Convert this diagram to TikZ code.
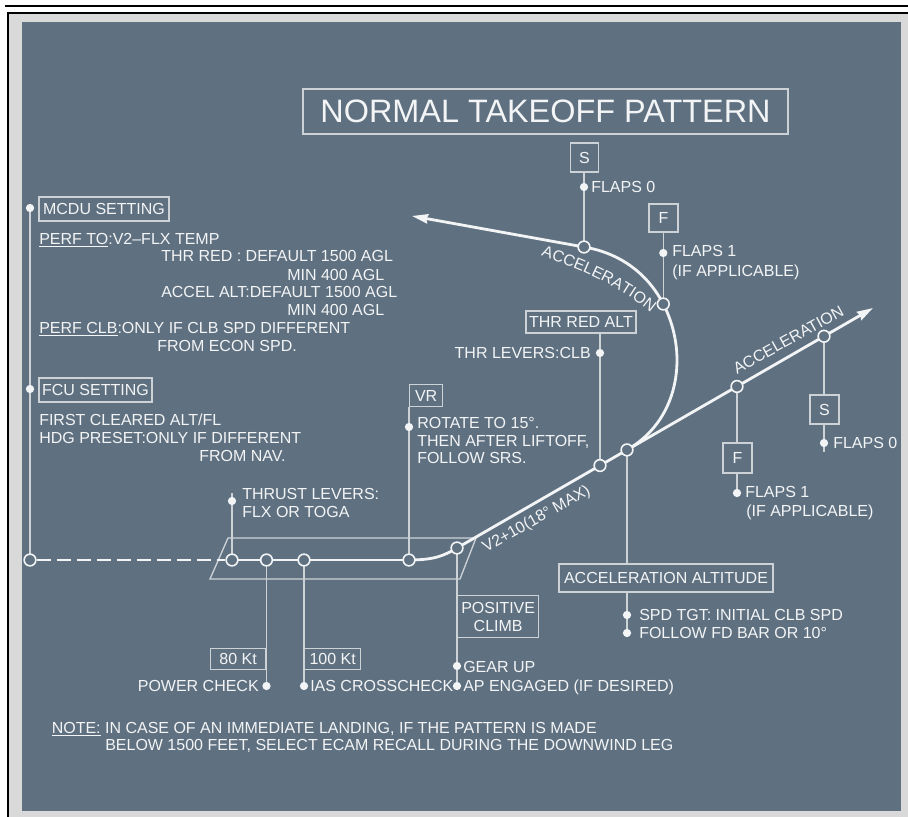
\documentclass[tikz,border=0pt]{standalone}
\usepackage{fontspec}
\setmainfont{Liberation Sans}
\usetikzlibrary{arrows.meta,decorations.text}

\definecolor{panel}{RGB}{95,113,129}
\definecolor{mat}{RGB}{217,217,217}
\definecolor{ink}{RGB}{243,244,245}
\definecolor{wire}{RGB}{205,210,215}

\newcommand{\bodyfont}{\fontsize{12}{14}\selectfont}
\newcommand{\tightfont}{\fontsize{12}{13.5}\selectfont}
\newcommand{\titlefont}{\fontsize{24.3}{28}\selectfont}

\pgfdeclarelayer{back}
\pgfsetlayers{back,main}

\begin{document}
\begin{tikzpicture}[x=0.75pt,y=-0.75pt,
  every node/.style={text=ink,inner sep=0pt,font=\bodyfont},
  wire/.style={draw=wire,line width=1pt},
  track/.style={draw=ink,line width=2.1pt},
  box/.style={draw=wire,line width=1pt,align=center},
  tl/.style={anchor=base west},
  tr/.style={anchor=base east},
  dot/.style={circle,fill=ink,minimum size=6.2pt},
  ring/.style={circle,draw=ink,line width=1.2pt,fill=panel,minimum size=8.8pt},
  tip/.style={-{Stealth[length=12pt,width=7pt,inset=1pt]}}
]
\useasboundingbox (0,0) rectangle (908,817);

% sheet, frame and panel
\begin{pgfonlayer}{back}
  \fill[mat] (9,14) rectangle (908,817);
  \fill[black] (5,5) rectangle (908,7);
  \fill[black] (7,12) rectangle (908,14);
  \fill[black] (7,12) rectangle (9,817);
  \fill[panel] (22,22) rectangle (901,811);
\end{pgfonlayer}

% title
\node[box,minimum width=363.75pt,minimum height=33.75pt,font=\titlefont] (title) at (545.5,111.5) {NORMAL TAKEOFF PATTERN};

% runway and flight path points
\node[ring] (rw0) at (30,560) {};
\node[ring] (rw1) at (232,560) {};
\node[ring] (rw2) at (266.5,560) {};
\node[ring] (rw3) at (304,560) {};
\node[ring] (rw4) at (409,560) {};
\node[ring] (rot) at (457,548) {};
\node[ring] (thr) at (600,465.5) {};
\node[ring] (acc) at (627,449.92) {};
\node[ring] (fcl) at (737,386.46) {};
\node[ring] (scl) at (824,336.27) {};
\node[ring] (fturn) at (663.3,304) {};
\node[ring] (sturn) at (584,247) {};
\coordinate (ctip) at (873,308);
\coordinate (ttip) at (412,216);

% bullets
\node[dot] (mcdu) at (30,208) {};
\node[dot] (fcu) at (30,389) {};
\node[dot] (thrust) at (232,501) {};
\coordinate (thrusttick) at (232,493);
\node[dot] (vrd) at (409,427) {};
\node[dot] (pc) at (266.5,686) {};
\node[dot] (ias) at (304,686) {};
\node[dot] (gear) at (457,666) {};
\node[dot] (ap) at (457,686) {};
\node[dot] (clb) at (600,353) {};
\node[dot] (spd) at (627,615) {};
\node[dot] (fd) at (627,633) {};
\node[dot] (f0t) at (584,187) {};
\node[dot] (f1t) at (663.3,253) {};
\node[dot] (f1c) at (737,493) {};
\node[dot] (f0c) at (824,443) {};
\coordinate (f0ctick) at (824,452);

% boxed labels
\node[box,minimum width=97.5pt,minimum height=18pt] (mcdubox) at (104,209) {MCDU SETTING};
\node[box,minimum width=84.75pt,minimum height=18pt] (fcubox) at (95.5,390) {FCU SETTING};
\node[box,anchor=north west,minimum width=24.75pt,minimum height=16.5pt] (vrbox) at (409,384) {VR};
\node[box,minimum width=82.5pt,minimum height=16.5pt] (thrbox) at (581,322) {THR RED ALT};
\node[box,minimum width=21pt,minimum height=21.75pt] (sturnbox) at (584.5,157.5) {S};
\node[box,minimum width=21.75pt,minimum height=21pt] (fturnbox) at (663.5,218) {F};
\node[box,minimum width=21.75pt,minimum height=22.5pt] (fclbox) at (737.5,458) {F};
\node[box,minimum width=21.75pt,minimum height=21.75pt] (sclbox) at (824.5,409.5) {S};
\node[box,minimum width=160.5pt,minimum height=21pt] (accbox) at (666,578) {ACCELERATION ALTITUDE};
\node[box,anchor=north west,minimum width=60.75pt,minimum height=31.5pt,font=\tightfont] (posbox) at (457,595) {POSITIVE\\CLIMB};
\node[box,anchor=north east,minimum width=41.6pt,minimum height=15.75pt] (kt80) at (266.5,648) {80 Kt};
\node[box,anchor=north west,minimum width=42pt,minimum height=15.75pt] (kt100) at (304,648) {100 Kt};

% MCDU and FCU notes
\node[tl] (m1) at (39,244) {\underline{PERF TO}:V2–FLX TEMP};
\node[tl] (m2) at (161,262) {THR RED : DEFAULT 1500 AGL};
\node[tl] (m3) at (287,280) {MIN 400 AGL};
\node[tl] (m4) at (161,297) {ACCEL ALT:DEFAULT 1500 AGL};
\node[tl] (m5) at (287,315) {MIN 400 AGL};
\node[tl] (m6) at (39,333) {\underline{PERF CLB}:ONLY IF CLB SPD DIFFERENT};
\node[tl] (m7) at (157,351) {FROM ECON SPD.};
\node[tl] (c1) at (39,425) {FIRST CLEARED ALT/FL};
\node[tl] (c2) at (39,443) {HDG PRESET:ONLY IF DIFFERENT};
\node[tl] (c3) at (199,461) {FROM NAV.};

% point notes
\node[tl] (t1) at (242,499) {THRUST LEVERS:};
\node[tl] (t2) at (242,517) {FLX OR TOGA};
\node[tl] (v1) at (417,428) {ROTATE TO 15°.};
\node[tl] (v2) at (417,446) {THEN AFTER LIFTOFF,};
\node[tl] (v3) at (417,463) {FOLLOW SRS.};
\node[tr] (pct) at (259,691) {POWER CHECK};
\node[tl] (iast) at (310,691) {IAS CROSSCHECK};
\node[tl] (geart) at (463,672) {GEAR UP};
\node[tl] (apt) at (463,691) {AP ENGAGED (IF DESIRED)};
\node[tr] (clbt) at (591,358) {THR LEVERS:CLB};
\node[tl] (spdt) at (639,620) {SPD TGT: INITIAL CLB SPD};
\node[tl] (fdt) at (639,638) {FOLLOW FD BAR OR 10°};
\node[tl] (f0tt) at (591,192) {FLAPS 0};
\node[tl] (f1tt) at (672,257) {FLAPS 1};
\node[tl] (f1tt2) at (672,276) {(IF APPLICABLE)};
\node[tl] (f1ct) at (745,497) {FLAPS 1};
\node[tl] (f1ct2) at (746,516) {(IF APPLICABLE)};
\node[tl] (f0ct) at (833,448) {FLAPS 0};

% path labels
\node[anchor=base west,rotate=29.5] (v2lbl) at (486,553) {V2+10(18° MAX)};
\node[anchor=base,rotate=29] (acclbl) at (791,344.5) {ACCELERATION};

% note
\node[tl] (n1) at (51.5,733) {\underline{NOTE:} IN CASE OF AN IMMEDIATE LANDING, IF THE PATTERN IS MADE};
\node[tl] (n2) at (105,750) {BELOW 1500 FEET, SELECT ECAM RECALL DURING THE DOWNWIND LEG};

% connectors and flight path, under the points
\begin{pgfonlayer}{back}
  % runway strip
  \draw[wire] (228,538) -- (476,538) -- (460,579) -- (210,579) -- cycle;
  % leader lines
  \draw[wire] (mcdu.center) -- (rw0.center);
  \draw[wire] (thrusttick) -- (rw1.center);
  \draw[wire] (rw2.center) -- (pc.center);
  \draw[wire] (rw3.center) -- (ias.center);
  \draw[wire] (vrbox.south west) -- (rw4.center);
  \draw[wire] (rot.center) -- (ap.center);
  \draw[wire] (thrbox.south -| thr) -- (thr.center);
  \draw[wire] (acc.center) -- (accbox.north -| acc);
  \draw[wire] (accbox.south -| acc) -- (fd.center);
  \draw[wire] (fcl.center) -- (fclbox.north -| fcl);
  \draw[wire] (fclbox.south -| fcl) -- (f1c.center);
  \draw[wire] (scl.center) -- (sclbox.north -| scl);
  \draw[wire] (sclbox.south -| scl) -- (f0ctick);
  \draw[wire] (sturnbox.south -| sturn) -- (sturn.center);
  \draw[wire] (fturnbox.south -| fturn) -- (fturn.center);
  % takeoff roll, rotation and climb
  \draw[track,dash pattern=on 10.5pt off 4.5pt] (rw0) -- (rw1);
  \draw[track] (rw1.center) -- (rw4.center);
  \draw[track,tip] (rw4.center) .. controls (435,560) and (444,555.5) .. (rot.center) -- (ctip);
  % turn after acceleration altitude
  \draw[track,tip] (acc.center) .. controls (662,429.7) and (677,395) .. (677,360)
     .. controls (677,315) and (650,258) .. (sturn.center) -- (ttip);
  % curved label along the turn
  \path[decorate,decoration={text along path,text align=center,text color=ink,
     text={|\bodyfont|ACCELERATION}}]
     (542,256) .. controls (575,268) and (615,283) .. (650,312);
\end{pgfonlayer}
\end{tikzpicture}
\end{document}
